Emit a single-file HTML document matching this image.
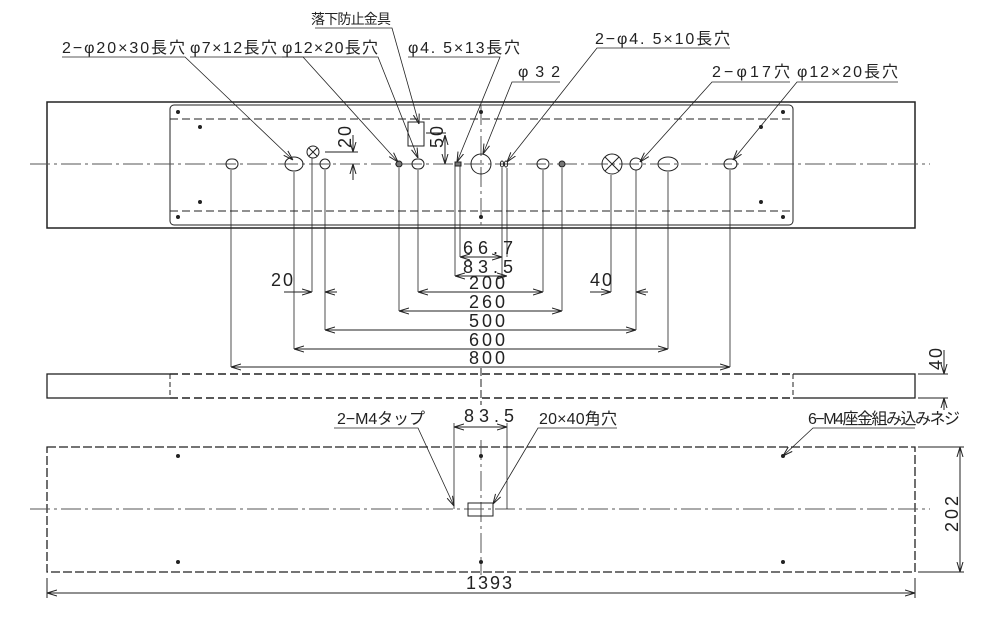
<!DOCTYPE html>
<html><head><meta charset="utf-8"><style>
html,body{margin:0;padding:0;background:#fff;}
svg{display:block;}
text{font-family:"Liberation Sans","Noto Sans CJK JP",sans-serif;fill:#222;}
.d{font-size:18px;}
.l{font-size:16px;}
</style></head><body>
<svg width="994" height="629" viewBox="0 0 994 629" xmlns="http://www.w3.org/2000/svg">
<defs>
<marker id="a" markerWidth="10" markerHeight="8" refX="10" refY="4" orient="auto-start-reverse" markerUnits="userSpaceOnUse"><path d="M0,1 L10,4 L0,7" fill="none" stroke="#222" stroke-width="1"/></marker>
</defs>
<g stroke="#222" fill="none" stroke-width="1">
<rect x="47" y="102" width="868" height="126" stroke-width="1.5"/>
<rect x="170" y="105" width="623" height="120" rx="4"/>
<line x1="170" y1="119" x2="793" y2="119" stroke-dasharray="8,4"/>
<line x1="170" y1="211" x2="793" y2="211" stroke-dasharray="8,4"/>
<line x1="30" y1="164" x2="930" y2="164" stroke-dasharray="20,4,3,4" stroke="#555"/>
<line x1="481" y1="105" x2="481" y2="225" stroke-dasharray="20,4,3,4" stroke="#555"/>
<rect x="226" y="159" width="12" height="10" rx="5"/>
<ellipse cx="294" cy="164" rx="9" ry="7"/>
<circle cx="313" cy="152" r="6"/><path d="M309,148 L317,156 M317,148 L309,156"/>
<circle cx="325" cy="164" r="5"/>
<ellipse cx="399" cy="164" rx="3" ry="3" fill="#777"/>
<rect x="412" y="159" width="12" height="10" rx="5"/>
<rect x="455" y="162" width="6" height="4" fill="#777"/>
<circle cx="481" cy="164" r="10"/>
<ellipse cx="502" cy="164" rx="1.6" ry="3"/><ellipse cx="506" cy="164" rx="1.6" ry="3"/>
<rect x="537" y="159" width="12" height="10" rx="5"/>
<ellipse cx="562" cy="164" rx="3" ry="3" fill="#777"/>
<circle cx="612" cy="164" r="10"/><path d="M605,157 L619,171 M619,157 L605,171"/>
<circle cx="636" cy="164" r="6"/>
<ellipse cx="668" cy="164" rx="10" ry="7"/>
<rect x="724" y="159" width="13" height="10" rx="5"/>
<rect x="408" y="122" width="16" height="24"/>
<line x1="325" y1="152" x2="358" y2="152"/>
<line x1="353" y1="135" x2="353" y2="152" marker-end="url(#a)"/>
<line x1="353" y1="180" x2="353" y2="164" marker-end="url(#a)"/>
<line x1="426" y1="133" x2="446" y2="133"/>
<line x1="445" y1="135" x2="445" y2="164" marker-start="url(#a)" marker-end="url(#a)"/>
<g stroke-width="0.8">
<line x1="231" y1="170" x2="231" y2="367"/>
<line x1="294" y1="172" x2="294" y2="349"/>
<line x1="312" y1="158" x2="312" y2="292"/>
<line x1="325" y1="170" x2="325" y2="330"/>
<line x1="399" y1="168" x2="399" y2="311"/>
<line x1="418" y1="170" x2="418" y2="292"/>
<line x1="455" y1="166" x2="455" y2="276"/>
<line x1="460" y1="166" x2="460" y2="257"/>
<line x1="502" y1="168" x2="502" y2="276"/>
<line x1="507" y1="168" x2="507" y2="257"/>
<line x1="543" y1="170" x2="543" y2="292"/>
<line x1="562" y1="168" x2="562" y2="311"/>
<line x1="611" y1="175" x2="611" y2="292"/>
<line x1="636" y1="170" x2="636" y2="330"/>
<line x1="668" y1="172" x2="668" y2="349"/>
<line x1="730" y1="170" x2="730" y2="367"/>
</g>
<line x1="460" y1="257" x2="502" y2="257" marker-start="url(#a)" marker-end="url(#a)"/>
<line x1="455" y1="276" x2="507" y2="276" marker-start="url(#a)" marker-end="url(#a)"/>
<line x1="418" y1="292" x2="543" y2="292" marker-start="url(#a)" marker-end="url(#a)"/>
<line x1="399" y1="311" x2="562" y2="311" marker-start="url(#a)" marker-end="url(#a)"/>
<line x1="325" y1="330" x2="636" y2="330" marker-start="url(#a)" marker-end="url(#a)"/>
<line x1="294" y1="349" x2="668" y2="349" marker-start="url(#a)" marker-end="url(#a)"/>
<line x1="231" y1="367" x2="730" y2="367" marker-start="url(#a)" marker-end="url(#a)"/>
<line x1="284" y1="292" x2="312" y2="292" marker-end="url(#a)"/>
<line x1="337" y1="292" x2="325" y2="292" marker-end="url(#a)"/>
<line x1="590" y1="292" x2="611" y2="292" marker-end="url(#a)"/>
<line x1="648" y1="292" x2="636" y2="292" marker-end="url(#a)"/>
<rect x="47" y="374" width="868" height="24" stroke-width="1.3"/>
<line x1="170" y1="374" x2="793" y2="374" stroke="#fff" stroke-width="2"/>
<line x1="170" y1="398" x2="793" y2="398" stroke="#fff" stroke-width="2"/>
<line x1="170" y1="374" x2="793" y2="374" stroke-dasharray="8,4" stroke-width="1.5"/>
<line x1="170" y1="398" x2="793" y2="398" stroke-dasharray="8,4" stroke-width="1.5"/>
<line x1="170" y1="374" x2="170" y2="398" stroke-dasharray="5,3"/>
<line x1="793" y1="374" x2="793" y2="398" stroke-dasharray="5,3"/>
<line x1="481" y1="368" x2="481" y2="405" stroke-dasharray="8,3"/>
<line x1="918" y1="374" x2="948" y2="374"/><line x1="918" y1="398" x2="948" y2="398"/>
<line x1="944" y1="350" x2="944" y2="374" marker-end="url(#a)"/>
<line x1="944" y1="410" x2="944" y2="398" marker-end="url(#a)"/>
<rect x="47" y="447" width="868" height="125" stroke-dasharray="9,3" stroke-width="1.3"/>
<line x1="30" y1="509" x2="930" y2="509" stroke-dasharray="20,4,3,4" stroke="#555"/>
<line x1="481" y1="440" x2="481" y2="575" stroke-dasharray="20,4,3,4" stroke="#555"/>
<rect x="468" y="503" width="25" height="13"/>
<line x1="454" y1="423" x2="454" y2="509" stroke-width="0.8"/>
<line x1="507" y1="423" x2="507" y2="509" stroke-width="0.8"/>
<line x1="454" y1="427" x2="507" y2="427" marker-start="url(#a)" marker-end="url(#a)"/>
<line x1="918" y1="447" x2="964" y2="447"/><line x1="918" y1="572" x2="964" y2="572"/>
<line x1="960" y1="447" x2="960" y2="572" marker-start="url(#a)" marker-end="url(#a)"/>
<line x1="47" y1="578" x2="47" y2="598"/><line x1="915" y1="578" x2="915" y2="598"/>
<line x1="47" y1="593" x2="915" y2="593" marker-start="url(#a)" marker-end="url(#a)"/>
<g stroke-width="0.8">
<polyline points="62,57 185,57 293,160" marker-end="url(#a)"/>
<polyline points="190,57 303,57 398,162" marker-end="url(#a)"/>
<polyline points="282,57 378,57 418,158" marker-end="url(#a)"/>
<polyline points="315,28 392,28 419,124" marker-end="url(#a)"/>
<polyline points="408,57 500,57 457,162" marker-end="url(#a)"/>
<polyline points="560,82 512,82 483,154" marker-end="url(#a)"/>
<polyline points="730,48 597,48 507,162" marker-end="url(#a)"/>
<polyline points="790,82 712,82 640,162" marker-end="url(#a)"/>
<polyline points="898,82 797,82 733,160" marker-end="url(#a)"/>
<polyline points="334,428 418,428 454,506" marker-end="url(#a)"/>
<polyline points="617,428 538,428 493,504" marker-end="url(#a)"/>
<polyline points="915,428 813,428 783,456" marker-end="url(#a)"/>
</g>
</g>
<g fill="#222">
<circle cx="178" cy="112" r="2"/><circle cx="178" cy="217" r="2"/>
<circle cx="200" cy="127" r="2"/><circle cx="200" cy="202" r="2"/>
<circle cx="481" cy="112" r="2"/><circle cx="481" cy="217" r="2"/>
<circle cx="761" cy="127" r="2"/><circle cx="761" cy="202" r="2"/>
<circle cx="783" cy="112" r="2"/><circle cx="783" cy="217" r="2"/>
<circle cx="178" cy="456" r="2"/><circle cx="178" cy="562" r="2"/>
<circle cx="481" cy="456" r="2"/><circle cx="481" cy="562" r="2"/>
<circle cx="783" cy="456" r="2"/><circle cx="783" cy="562" r="2"/>
</g>
<text class="l" x="62" y="53" textLength="123" lengthAdjust="spacing">2−φ20×30長穴</text>
<text class="l" x="190" y="53" textLength="87" lengthAdjust="spacing">φ7×12長穴</text>
<text class="l" x="282" y="53" textLength="96" lengthAdjust="spacing">φ12×20長穴</text>
<text class="l" x="311" y="24" textLength="80" lengthAdjust="spacing" style="font-size:14px">落下防止金具</text>
<text class="l" x="408" y="53" textLength="112" lengthAdjust="spacing">φ4. 5×13長穴</text>
<text class="l" x="518" y="77" textLength="42" lengthAdjust="spacing">φ32</text>
<text class="l" x="595" y="44" textLength="135" lengthAdjust="spacing">2−φ4. 5×10長穴</text>
<text class="l" x="712" y="77" textLength="78" lengthAdjust="spacing">2−φ17穴</text>
<text class="l" x="797" y="77" textLength="101" lengthAdjust="spacing">φ12×20長穴</text>
<text class="d" x="463" y="254" textLength="50" lengthAdjust="spacing">66.7</text>
<text class="d" x="463" y="273" textLength="50" lengthAdjust="spacing">83.5</text>
<text class="d" x="469" y="289" textLength="36" lengthAdjust="spacing">200</text>
<text class="d" x="469" y="308" textLength="36" lengthAdjust="spacing">260</text>
<text class="d" x="469" y="327" textLength="36" lengthAdjust="spacing">500</text>
<text class="d" x="469" y="346" textLength="36" lengthAdjust="spacing">600</text>
<text class="d" x="469" y="364" textLength="36" lengthAdjust="spacing">800</text>
<text class="d" x="271" y="286" textLength="22" lengthAdjust="spacing">20</text>
<text class="d" x="590" y="286" textLength="22" lengthAdjust="spacing">40</text>
<text class="d" transform="translate(351,148) rotate(-90)" textLength="22" lengthAdjust="spacing">20</text>
<text class="d" transform="translate(443,148) rotate(-90)" textLength="22" lengthAdjust="spacing">50</text>
<text class="d" transform="translate(942,370) rotate(-90)" textLength="22" lengthAdjust="spacing">40</text>
<text class="d" transform="translate(958,532) rotate(-90)" textLength="36" lengthAdjust="spacing">202</text>
<text class="l" x="337" y="424" textLength="88" lengthAdjust="spacing">2−M4タップ</text>
<text class="d" x="464" y="422" textLength="50" lengthAdjust="spacing">83.5</text>
<text class="l" x="539" y="424" textLength="78" lengthAdjust="spacing">20×40角穴</text>
<text class="l" x="808" y="424" textLength="152" lengthAdjust="spacing">6−M4座金組み込みネジ</text>
<text class="d" x="466" y="589" textLength="46" lengthAdjust="spacing">1393</text>
</svg>
</body></html>
